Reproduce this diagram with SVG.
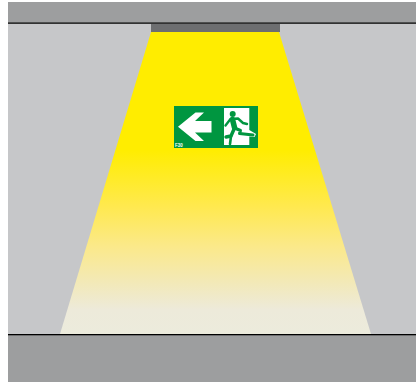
<svg xmlns="http://www.w3.org/2000/svg" width="416" height="382" viewBox="0 0 416 382">
  <defs>
    <linearGradient id="beam" x1="0" y1="32" x2="0" y2="334" gradientUnits="userSpaceOnUse">
      <stop offset="0" stop-color="#ffed00"/>
      <stop offset="0.39" stop-color="#ffed00"/>
      <stop offset="0.58" stop-color="#ffe950"/>
      <stop offset="0.71" stop-color="#fbe98a"/>
      <stop offset="0.82" stop-color="#f3e9b4"/>
      <stop offset="0.92" stop-color="#edeada"/>
      <stop offset="1" stop-color="#ecebdc"/>
    </linearGradient>
  </defs>
  <rect width="416" height="382" fill="#ffffff"/>
  <rect x="8" y="2" width="408" height="21" fill="#9d9e9f"/>
  <rect x="8" y="24" width="408" height="310" fill="#c6c7c9"/>
  <rect x="8" y="335" width="408" height="47" fill="#9d9e9f"/>
  <polygon points="151,32 279,32 371,334 60,334" fill="url(#beam)"/>
  <rect x="151" y="24" width="129" height="8" fill="#6d6e70"/>
  <rect x="8" y="22.5" width="408" height="1.3" fill="#000000"/>
  <rect x="8" y="334" width="408" height="1.3" fill="#000000"/>
  <g id="exit-sign">
    <rect x="174" y="106" width="84" height="42" fill="#009640"/>
    <polygon points="178,126.700 195.500,112.500 204,112.500 195,121 211.500,121 211.500,132.500 195,132.500 204,141 195.500,141" fill="#ffffff"/>
    <polygon points="224,108 249.300,108 249.300,130 256,134 254.500,137 249.300,136.500 249.300,145 224,145" fill="#ffffff"/>
    <g fill="none" stroke="#009640" stroke-linecap="round" stroke-linejoin="round">
      <path d="M225.500,125.500 L230.500,119 L238,118.500 L243,123 L247,124" stroke-width="2.400"/>
      <path d="M232.500,119.500 L234.500,127.500" stroke-width="5.500"/>
      <path d="M234.500,128 L231,136 L226,137" stroke-width="3.400"/>
      <path d="M234.500,128 L240.500,130.500 L239.500,133.500 L253,135" stroke-width="3"/>
      <path d="M231,136 L230,144" stroke-width="2.600"/>
    </g>
    <circle cx="232.700" cy="114" r="3" fill="#009640"/>
    <text x="175" y="147" font-family="Liberation Sans, sans-serif" font-size="4.500" font-weight="bold" fill="#ffffff">F30</text>
  </g>
</svg>
